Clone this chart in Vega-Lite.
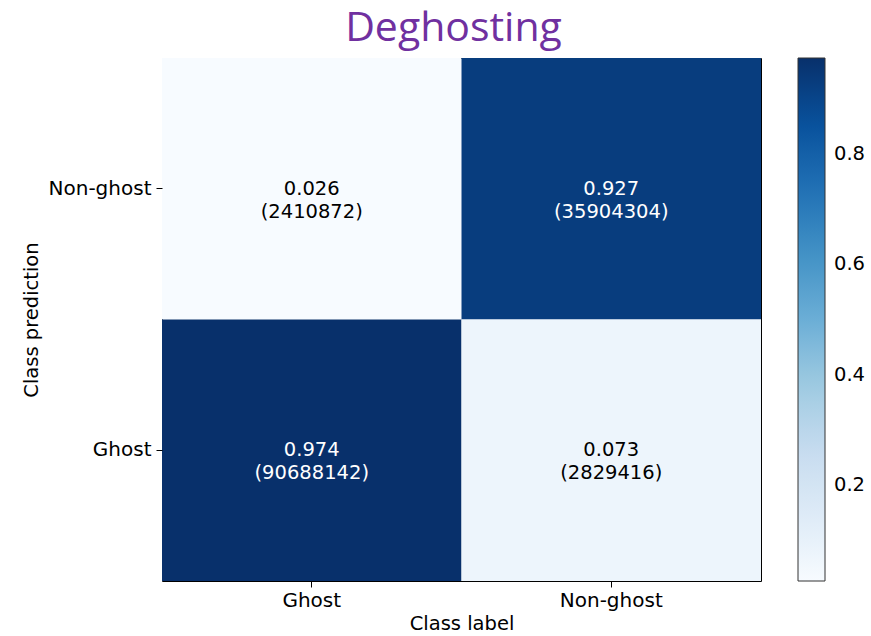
{
  "$schema": "https://vega.github.io/schema/vega-lite/v6.json",
  "width": 599,
  "height": 523,
  "autosize": {"type": "none"},
  "padding": {"left": 162, "top": 58, "right": 110, "bottom": 55},
  "background": "white",
  "title": {
    "text": "Deghosting",
    "color": "#7030a0",
    "font": "Open Sans",
    "fontSize": 41,
    "fontWeight": "normal",
    "anchor": "middle",
    "dx": -8,
    "offset": 8
  },
  "config": {
    "view": {"stroke": "black", "strokeWidth": 1},
    "axis": {
      "labelFont": "DejaVu Sans",
      "titleFont": "DejaVu Sans",
      "labelFontSize": 20,
      "titleFontSize": 19.5,
      "titleFontWeight": "normal",
      "labelColor": "black",
      "titleColor": "black",
      "tickColor": "black",
      "tickSize": 6,
      "domain": false,
      "grid": false
    },
    "legend": {
      "labelFont": "DejaVu Sans",
      "labelFontSize": 19.5,
      "labelColor": "black"
    }
  },
  "data": {
    "values": [
      {"label": "Ghost", "prediction": "Non-ghost", "value": 0.026, "cell": "0.026\n(2410872)"},
      {"label": "Non-ghost", "prediction": "Non-ghost", "value": 0.927, "cell": "0.927\n(35904304)"},
      {"label": "Ghost", "prediction": "Ghost", "value": 0.974, "cell": "0.974\n(90688142)"},
      {"label": "Non-ghost", "prediction": "Ghost", "value": 0.073, "cell": "0.073\n(2829416)"}
    ]
  },
  "encoding": {
    "x": {
      "field": "label",
      "type": "nominal",
      "sort": ["Ghost", "Non-ghost"],
      "title": "Class label",
      "scale": {"paddingInner": 0, "paddingOuter": 0},
      "axis": {"labelAngle": 0, "labelPadding": 3, "titlePadding": 4}
    },
    "y": {
      "field": "prediction",
      "type": "nominal",
      "sort": ["Non-ghost", "Ghost"],
      "title": "Class prediction",
      "scale": {"paddingInner": 0, "paddingOuter": 0},
      "axis": {"labelPadding": 5, "titlePadding": 7}
    }
  },
  "layer": [
    {
      "mark": {"type": "rect"},
      "encoding": {
        "color": {
          "field": "value",
          "type": "quantitative",
          "scale": {
            "domain": [0.026, 0.1445, 0.263, 0.3815, 0.5, 0.6185, 0.737, 0.8555, 0.974],
            "range": ["#f7fbff", "#deebf7", "#c6dbef", "#9ecae1", "#6baed6", "#4292c6", "#2171b5", "#08519c", "#08306b"],
            "zero": false,
            "interpolate": "rgb"
          },
          "legend": {
            "title": null,
            "orient": "none",
            "legendX": 636,
            "legendY": 0,
            "direction": "vertical",
            "gradientLength": 523,
            "gradientThickness": 27,
            "gradientStrokeColor": "#333333",
            "gradientStrokeWidth": 1,
            "values": [0.2, 0.4, 0.6, 0.8],
            "labelOffset": 9,
            "labelOverlap": false
          }
        }
      }
    },
    {
      "mark": {"type": "text", "font": "DejaVu Sans", "fontSize": 19.5, "lineBreak": "\n", "lineHeight": 23, "baseline": "middle"},
      "encoding": {
        "text": {"field": "cell"},
        "color": {
          "condition": {"test": "datum.value > 0.5", "value": "white"},
          "value": "black"
        }
      }
    }
  ]
}
